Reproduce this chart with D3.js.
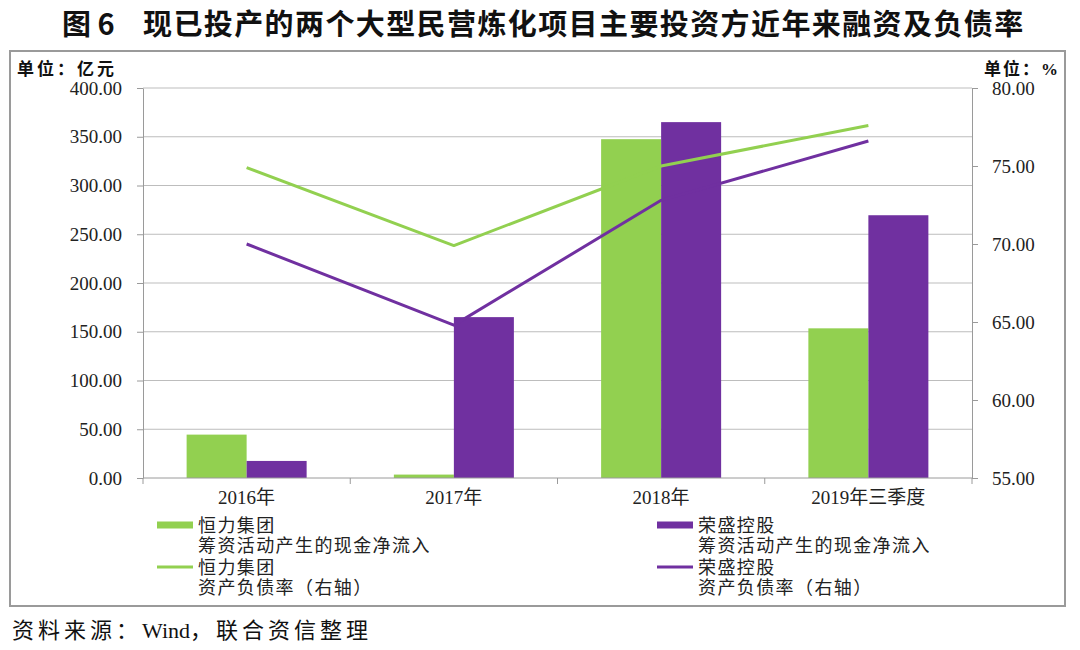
<!DOCTYPE html>
<html>
<head>
<meta charset="utf-8">
<script src="https://cdn.jsdelivr.net/npm/d3@7"></script>
<style>
  html, body { margin: 0; padding: 0; background: #fff; }
  svg { display: block; }
</style>
</head>
<body>
<svg id="chart" width="1080" height="650"></svg>
<script>
// ---------- data ----------
const categories = ["2016年", "2017年", "2018年", "2019年三季度"];
const hengliCashFlow = [44.5, 3.5, 347.5, 153.5];      // 恒力集团 筹资活动产生的现金净流入 (亿元)
const rongshengCashFlow = [17.5, 165.0, 365.0, 269.5]; // 荣盛控股 筹资活动产生的现金净流入 (亿元)
const hengliDebtRatio = [74.9, 69.9, 75.0, 77.6];      // 恒力集团 资产负债率 (%)
const rongshengDebtRatio = [70.0, 64.8, 72.8, 76.6];   // 荣盛控股 资产负债率 (%)
const leftTicks = [0, 50, 100, 150, 200, 250, 300, 350, 400];
const rightTicks = [55, 60, 65, 70, 75, 80];
const seriesNames = ["恒力集团", "荣盛控股"];

const GREEN = "#92D050";
const PURPLE = "#7030A0";
const SERIF = "'Liberation Serif', 'Times New Roman', 'Noto Sans CJK SC', serif";
const CJK = "'Liberation Serif', 'Noto Sans CJK SC', sans-serif";

const svg = d3.select("#chart");

// ---------- title ----------
svg.append("text").attr("x", 62).attr("y", 35)
  .attr("font-family", "'Noto Sans CJK SC', sans-serif").attr("font-weight", "bold")
  .attr("font-size", 29).attr("fill", "#111").attr("xml:space", "preserve").text("图 6");
svg.append("text").attr("x", 143).attr("y", 35)
  .attr("font-family", "'Noto Sans CJK SC', sans-serif").attr("font-weight", "bold")
  .attr("font-size", 29).attr("letter-spacing", 1.4).attr("fill", "#111")
  .text("现已投产的两个大型民营炼化项目主要投资方近年来融资及负债率");

// ---------- frame ----------
svg.append("rect").attr("x", 10).attr("y", 51).attr("width", 1055).attr("height", 555)
  .attr("fill", "none").attr("stroke", "#9a9a9a").attr("stroke-width", 2);

// ---------- scales ----------
const plotL = 143, plotR = 972, plotT = 88, plotB = 478;
const x = d3.scaleBand().domain(categories).range([plotL, plotR]).paddingInner(0).paddingOuter(0);
const xSub = d3.scaleBand().domain(seriesNames).range([0, x.bandwidth()])
  .paddingInner(0).paddingOuter(0.727);
const yL = d3.scaleLinear().domain([0, 400]).range([plotB, plotT]);
const yR = d3.scaleLinear().domain([55, 80]).range([plotB, plotT]);

// ---------- grid ----------
svg.append("g").selectAll("line").data(leftTicks.filter(d => d > 0)).join("line")
  .attr("x1", plotL).attr("x2", plotR)
  .attr("y1", d => yL(d)).attr("y2", d => yL(d))
  .attr("stroke", "#bdbdbd").attr("stroke-width", 1);

// ---------- bars ----------
const barData = categories.map((c, i) => [
  { cat: c, s: seriesNames[0], v: hengliCashFlow[i], color: GREEN },
  { cat: c, s: seriesNames[1], v: rongshengCashFlow[i], color: PURPLE }
]).flat();
svg.append("g").selectAll("rect").data(barData).join("rect")
  .attr("x", d => x(d.cat) + xSub(d.s))
  .attr("width", xSub.bandwidth())
  .attr("y", d => yL(d.v))
  .attr("height", d => yL(0) - yL(d.v))
  .attr("fill", d => d.color);

// ---------- axes ----------
function styleAxis(g) {
  g.selectAll(".domain").attr("stroke", "#9a9a9a");
  g.selectAll(".tick line").attr("stroke", "#9a9a9a");
  g.selectAll("text").attr("font-family", SERIF).attr("font-size", 19).attr("fill", "#222");
}
const leftAxis = svg.append("g").attr("transform", `translate(${plotL},0)`)
  .call(d3.axisLeft(yL).tickValues(leftTicks).tickFormat(d3.format(".2f"))
    .tickSize(6).tickSizeOuter(0).tickPadding(15));
styleAxis(leftAxis);

const rightAxis = svg.append("g").attr("transform", `translate(${plotR},0)`)
  .call(d3.axisRight(yR).tickValues(rightTicks).tickFormat(d3.format(".2f"))
    .tickSize(6).tickSizeOuter(0).tickPadding(14));
styleAxis(rightAxis);

// bottom axis: ticks at category boundaries, labels centred
const bottom = svg.append("g");
bottom.append("line").attr("x1", plotL).attr("x2", plotR).attr("y1", plotB).attr("y2", plotB)
  .attr("stroke", "#9a9a9a");
const bounds = categories.map(c => x(c)).concat([x(categories[categories.length - 1]) + x.bandwidth()]);
bottom.selectAll("line.tk").data(bounds).join("line").attr("class", "tk")
  .attr("x1", d => d).attr("x2", d => d).attr("y1", plotB).attr("y2", plotB + 6)
  .attr("stroke", "#9a9a9a");
bottom.selectAll("text").data(categories).join("text")
  .attr("x", d => x(d) + x.bandwidth() / 2).attr("y", 504)
  .attr("text-anchor", "middle").attr("font-family", CJK).attr("font-size", 19)
  .attr("fill", "#222").text(d => d);

// ---------- lines ----------
const lineGen = d3.line().x((d, i) => x(categories[i]) + x.bandwidth() / 2).y(d => yR(d));
[[hengliDebtRatio, GREEN], [rongshengDebtRatio, PURPLE]].forEach(([vals, col]) => {
  svg.append("path").datum(vals).attr("d", lineGen)
    .attr("fill", "none").attr("stroke", col).attr("stroke-width", 3)
    .attr("stroke-linejoin", "round");
});

// ---------- unit labels ----------
svg.append("text").attr("x", 17).attr("y", 75)
  .attr("font-family", CJK).attr("font-weight", "bold").attr("font-size", 17)
  .attr("letter-spacing", 3).attr("fill", "#111").text("单位：亿元");
svg.append("text").attr("x", 1060).attr("y", 75).attr("text-anchor", "end")
  .attr("font-family", CJK).attr("font-weight", "bold").attr("font-size", 17)
  .attr("letter-spacing", 2).attr("fill", "#111").text("单位：%");

// ---------- legend ----------
const legendItems = [
  { x: 157, y: 525, type: "rect", color: GREEN, l1: seriesNames[0], l2: "筹资活动产生的现金净流入" },
  { x: 657, y: 525, type: "rect", color: PURPLE, l1: seriesNames[1], l2: "筹资活动产生的现金净流入" },
  { x: 157, y: 567, type: "line", color: GREEN, l1: seriesNames[0], l2: "资产负债率（右轴）" },
  { x: 657, y: 567, type: "line", color: PURPLE, l1: seriesNames[1], l2: "资产负债率（右轴）" }
];
const lg = svg.append("g");
legendItems.forEach(it => {
  if (it.type === "rect") {
    lg.append("rect").attr("x", it.x).attr("y", it.y - 3.5).attr("width", 36).attr("height", 7)
      .attr("fill", it.color);
  } else {
    lg.append("line").attr("x1", it.x).attr("x2", it.x + 36).attr("y1", it.y).attr("y2", it.y)
      .attr("stroke", it.color).attr("stroke-width", 3);
  }
  lg.append("text").attr("x", it.x + 41).attr("y", it.y + 6.5)
    .attr("font-family", CJK).attr("font-size", 18).attr("letter-spacing", 1.4)
    .attr("fill", "#222").text(it.l1);
  lg.append("text").attr("x", it.x + 41).attr("y", it.y + 27)
    .attr("font-family", CJK).attr("font-size", 18).attr("letter-spacing", 1.4)
    .attr("fill", "#222").text(it.l2);
});

// ---------- footer ----------
const foot = svg.append("text").attr("x", 12).attr("y", 638)
  .attr("font-family", CJK).attr("font-size", 22).attr("fill", "#111");
foot.append("tspan").attr("letter-spacing", 4).text("资料来源：");
foot.append("tspan").attr("letter-spacing", 0).text("Wind");
foot.append("tspan").attr("letter-spacing", 4).text("，联合资信整理");
</script>
</body>
</html>
